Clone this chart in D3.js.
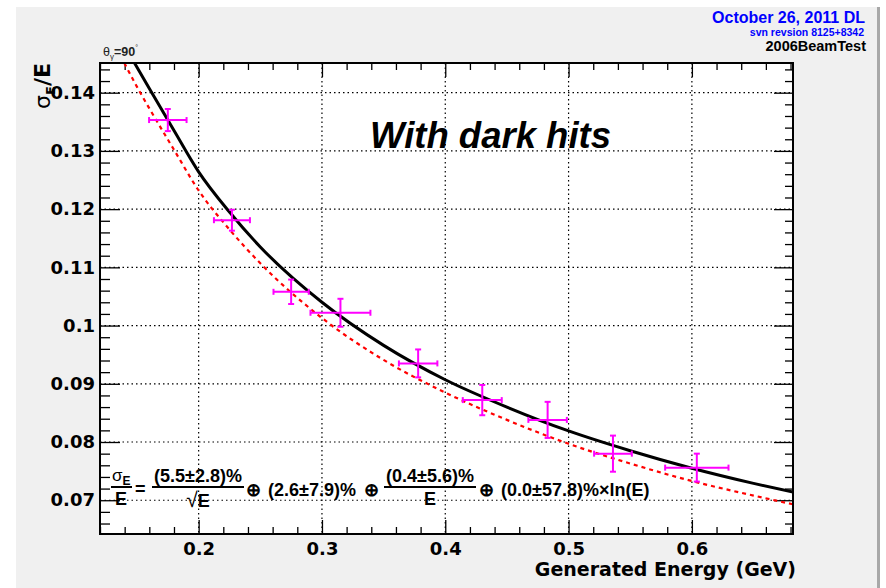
<!DOCTYPE html>
<html>
<head>
<meta charset="utf-8">
<script src="https://cdn.jsdelivr.net/npm/d3@7"></script>
<style>
  body { margin: 0; background: #fff; }
  text { font-family: "Liberation Sans", Arial, Helvetica, sans-serif; font-weight: bold; }
  .wide text, text.wide { font-family: "DejaVu Sans", sans-serif; }
</style>
</head>
<body>
<svg id="chart" width="886" height="588"></svg>
<script>
// measured points (generated energy in GeV, sigma_E/E)
let energy = [0.175, 0.227, 0.275, 0.315, 0.378, 0.430, 0.483, 0.536, 0.604]
let resol = [0.1353, 0.1181, 0.1058, 0.1022, 0.0935, 0.0872, 0.0838, 0.0780, 0.0756]
let energyErr = [0.0152, 0.0146, 0.0143, 0.0243, 0.0156, 0.0158, 0.0156, 0.0153, 0.0257]
let resolErr = [0.0019, 0.0018, 0.0021, 0.0024, 0.0024, 0.0026, 0.0031, 0.0031, 0.0024]

// fit curve (black, solid)
let fitE = [0.148, 0.16, 0.18, 0.2, 0.225, 0.25, 0.3, 0.35, 0.4, 0.45, 0.5, 0.55, 0.6, 0.65, 0.682]
let fitRes = [0.1451, 0.1407, 0.1335, 0.1264, 0.1195, 0.1135, 0.1040, 0.0966, 0.0907, 0.0860, 0.0819, 0.0785, 0.0755, 0.0729, 0.0714]

// second curve (red, dashed)
let refE = [0.1397, 0.15, 0.16, 0.18, 0.2, 0.225, 0.25, 0.3, 0.35, 0.4, 0.45, 0.5, 0.55, 0.6, 0.65, 0.682]
let refRes = [0.1451, 0.1410, 0.1373, 0.1302, 0.1232, 0.1165, 0.1107, 0.1013, 0.0941, 0.0885, 0.0838, 0.0797, 0.0763, 0.0733, 0.0708, 0.0693]

let xMajor = [0.2, 0.3, 0.4, 0.5, 0.6]
let yMajor = [0.07, 0.08, 0.09, 0.1, 0.11, 0.12, 0.13, 0.14]

//////////////////////////////////////////////////////////////////////
// SETUP
//////////////////////////////////////////////////////////////////////
const padL = 100, padR = 793, padT = 63, padB = 534

let x = d3.scaleLinear().domain([0.12, 0.682]).range([padL, padR])
let y = d3.scaleLinear().domain([0.0642, 0.1451]).range([padB, padT])

let xMinor = d3.range(0.12, 0.683, 0.02).filter((v) => !xMajor.some((m) => Math.abs(m - v) < 1e-6))
let yMinor = d3.range(0.066, 0.1452, 0.002).filter((v) => !yMajor.some((m) => Math.abs(m - v) < 1e-6))

const svg = d3.select("#chart")

// canvas background
svg.append("rect").attr("x", 16).attr("y", 7).attr("width", 861).attr("height", 581).attr("fill", "#f0f0f0")
svg.append("rect").attr("x", 877).attr("y", 7).attr("width", 3).attr("height", 581).attr("fill", "#a8a8a8")

// plot area
svg.append("rect")
  .attr("x", padL).attr("y", padT)
  .attr("width", padR - padL).attr("height", padB - padT)
  .attr("fill", "#fff")

svg.append("clipPath").attr("id", "clip")
  .append("rect")
  .attr("x", padL).attr("y", padT)
  .attr("width", padR - padL).attr("height", padB - padT)

// grid
const grid = svg.append("g")
  .attr("stroke", "#000").attr("stroke-width", 1.2).attr("stroke-dasharray", "1.5,3")
grid.selectAll("line.gx").data(xMajor).join("line")
  .attr("x1", (d) => x(d)).attr("x2", (d) => x(d))
  .attr("y1", padT).attr("y2", padB)
grid.selectAll("line.gy").data(yMajor).join("line")
  .attr("y1", (d) => y(d)).attr("y2", (d) => y(d))
  .attr("x1", padL).attr("x2", padR)

//////////////////////////////////////////////////////////////////////
// AXES (ticks inside the frame, ROOT style)
//////////////////////////////////////////////////////////////////////
let styleAxis = (g) => {
  g.select(".domain").remove()
  g.selectAll("line").attr("stroke", "#000").attr("stroke-width", 1.3)
  g.attr("font-family", null).attr("font-size", 18).classed("wide", true)
  g.selectAll("text").attr("fill", "#000")
}

svg.append("g").attr("transform", `translate(0,${padB})`)
  .call(d3.axisBottom(x).tickValues(xMinor).tickSize(-7).tickFormat(""))
  .call(styleAxis)
svg.append("g").attr("transform", `translate(0,${padB})`)
  .call(d3.axisBottom(x).tickValues(xMajor).tickSize(-14).tickPadding(8).tickFormat(d3.format(".1f")))
  .call(styleAxis)

svg.append("g").attr("transform", `translate(0,${padT})`)
  .call(d3.axisTop(x).tickValues(xMinor).tickSize(-7).tickFormat(""))
  .call(styleAxis)
svg.append("g").attr("transform", `translate(0,${padT})`)
  .call(d3.axisTop(x).tickValues(xMajor).tickSize(-14).tickFormat(""))
  .call(styleAxis)

svg.append("g").attr("transform", `translate(${padL},0)`)
  .call(d3.axisLeft(y).tickValues(yMinor).tickSize(-10).tickFormat(""))
  .call(styleAxis)
svg.append("g").attr("transform", `translate(${padL},0)`)
  .call(d3.axisLeft(y).tickValues(yMajor).tickSize(-20).tickPadding(5).tickFormat((d) => String(+d.toFixed(2))))
  .call(styleAxis)

svg.append("g").attr("transform", `translate(${padR},0)`)
  .call(d3.axisRight(y).tickValues(yMinor).tickSize(-8).tickFormat(""))
  .call(styleAxis)
svg.append("g").attr("transform", `translate(${padR},0)`)
  .call(d3.axisRight(y).tickValues(yMajor).tickSize(-19).tickFormat(""))
  .call(styleAxis)

//////////////////////////////////////////////////////////////////////
// CURVES AND POINTS
//////////////////////////////////////////////////////////////////////
const plot = svg.append("g").attr("clip-path", "url(#clip)")

let line = d3.line()
  .x((d) => x(d[0]))
  .y((d) => y(d[1]))
  .curve(d3.curveMonotoneX)

plot.append("path")
  .datum(d3.zip(refE, refRes))
  .attr("d", line)
  .attr("fill", "none").attr("stroke", "#ff0000")
  .attr("stroke-width", 2.2).attr("stroke-dasharray", "4,4")

plot.append("path")
  .datum(d3.zip(fitE, fitRes))
  .attr("d", line)
  .attr("fill", "none").attr("stroke", "#000").attr("stroke-width", 3)

let points = energy.map((e, i) => ({ e: e, r: resol[i], ex: energyErr[i], ey: resolErr[i] }))
const cap = 3
const pts = plot.append("g").attr("stroke", "#ff00ff").attr("stroke-width", 2)
pts.selectAll("line.h").data(points).join("line")
  .attr("x1", (d) => x(d.e - d.ex)).attr("x2", (d) => x(d.e + d.ex))
  .attr("y1", (d) => y(d.r)).attr("y2", (d) => y(d.r))
pts.selectAll("line.v").data(points).join("line")
  .attr("x1", (d) => x(d.e)).attr("x2", (d) => x(d.e))
  .attr("y1", (d) => y(d.r - d.ey)).attr("y2", (d) => y(d.r + d.ey))
pts.selectAll("line.cl").data(points).join("line")
  .attr("x1", (d) => x(d.e - d.ex)).attr("x2", (d) => x(d.e - d.ex))
  .attr("y1", (d) => y(d.r) - cap).attr("y2", (d) => y(d.r) + cap)
pts.selectAll("line.cr").data(points).join("line")
  .attr("x1", (d) => x(d.e + d.ex)).attr("x2", (d) => x(d.e + d.ex))
  .attr("y1", (d) => y(d.r) - cap).attr("y2", (d) => y(d.r) + cap)
pts.selectAll("line.ct").data(points).join("line")
  .attr("x1", (d) => x(d.e) - cap).attr("x2", (d) => x(d.e) + cap)
  .attr("y1", (d) => y(d.r + d.ey)).attr("y2", (d) => y(d.r + d.ey))
pts.selectAll("line.cb").data(points).join("line")
  .attr("x1", (d) => x(d.e) - cap).attr("x2", (d) => x(d.e) + cap)
  .attr("y1", (d) => y(d.r - d.ey)).attr("y2", (d) => y(d.r - d.ey))

// frame
svg.append("rect")
  .attr("x", padL).attr("y", padT)
  .attr("width", padR - padL).attr("height", padB - padT)
  .attr("fill", "none").attr("stroke", "#000").attr("stroke-width", 2)

//////////////////////////////////////////////////////////////////////
// TEXTS
//////////////////////////////////////////////////////////////////////
svg.append("text").classed("wide", true)
  .attr("x", 796).attr("y", 576)
  .attr("text-anchor", "end").attr("font-size", 19)
  .text("Generated Energy (GeV)")

let ytitle = svg.append("text").classed("wide", true)
  .attr("transform", `translate(50,${padT}) rotate(-90)`)
  .attr("text-anchor", "end").attr("font-size", 22)
ytitle.append("tspan").attr("font-weight", "normal").text("σ")
ytitle.append("tspan").attr("font-size", 13).attr("dy", 5).text("E")
ytitle.append("tspan").attr("dy", -5).text("/E")

let theta = svg.append("text").attr("x", 103).attr("y", 56).attr("font-size", 12.5).attr("fill", "#222")
theta.append("tspan").attr("font-weight", "normal").text("θ")
theta.append("tspan").attr("font-size", 8).attr("font-weight", "normal").attr("dy", 3).text("γ")
theta.append("tspan").attr("dy", -3).text("=90")
theta.append("tspan").attr("font-size", 7).attr("font-weight", "normal").attr("dy", -6).text("°")

svg.append("text")
  .attr("x", 865).attr("y", 22.5).attr("text-anchor", "end")
  .attr("font-size", 16).attr("fill", "#0000ff")
  .text("October 26, 2011 DL")
svg.append("text")
  .attr("x", 864).attr("y", 35.5).attr("text-anchor", "end")
  .attr("font-size", 10.5).attr("fill", "#0000ff")
  .text("svn revsion 8125+8342")
svg.append("text")
  .attr("x", 866).attr("y", 51).attr("text-anchor", "end")
  .attr("font-size", 14.5).attr("fill", "#000")
  .text("2006BeamTest")

svg.append("text")
  .attr("x", 370).attr("y", 148)
  .attr("font-size", 36.5).attr("font-style", "italic")
  .text("With dark hits")

// resolution formula
const f = svg.append("g").attr("font-size", 18).attr("fill", "#000")
let bar = (x1, x2, yy) => f.append("line")
  .attr("x1", x1).attr("x2", x2).attr("y1", yy).attr("y2", yy)
  .attr("stroke", "#000").attr("stroke-width", 2)

let sig = f.append("text").attr("x", 112).attr("y", 481)
sig.append("tspan").attr("font-weight", "normal").attr("font-size", 17).text("σ")
sig.append("tspan").attr("font-size", 12).attr("dy", 4).text("E")
bar(111, 132, 487)
f.append("text").attr("x", 121).attr("y", 505).attr("text-anchor", "middle").text("E")
f.append("text").attr("x", 135).attr("y", 495).text("=")

f.append("text").attr("x", 198).attr("y", 482).attr("text-anchor", "middle").text("(5.5±2.8)%")
bar(152, 244, 487)
let sq = f.append("text").attr("x", 198).attr("y", 507).attr("text-anchor", "middle")
sq.append("tspan").attr("font-weight", "normal").attr("font-size", 21).text("√")
sq.append("tspan").text("E")

f.append("text").attr("x", 246).attr("y", 496).attr("font-weight", "normal").text("⊕")
f.append("text").attr("x", 268).attr("y", 496).text("(2.6±7.9)%")
f.append("text").attr("x", 364).attr("y", 496).attr("font-weight", "normal").text("⊕")

f.append("text").attr("x", 430).attr("y", 482).attr("text-anchor", "middle").text("(0.4±5.6)%")
bar(384, 476, 487)
f.append("text").attr("x", 430).attr("y", 505).attr("text-anchor", "middle").text("E")
f.append("text").attr("x", 479).attr("y", 496).attr("font-weight", "normal").text("⊕")
f.append("text").attr("x", 501).attr("y", 496).text("(0.0±57.8)%×ln(E)")
</script>
</body>
</html>
